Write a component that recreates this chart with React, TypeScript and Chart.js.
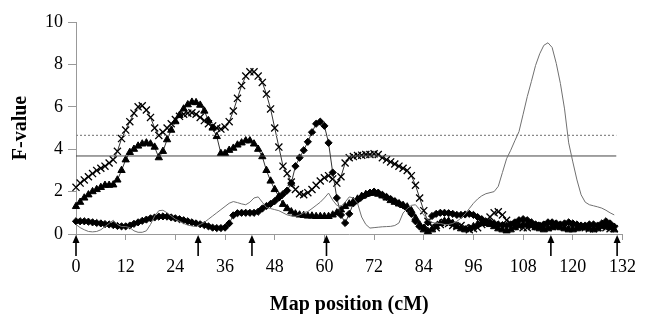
import React, { useEffect, useRef } from "react";
import { Chart, registerables } from "chart.js";

Chart.register(...registerables);

// Map position (cM) step: one value per cM from 0 to 130
const crossSeries = [
  2.2, 2.4, 2.55, 2.7, 2.85, 3.0, 3.1, 3.2, 3.35, 3.5,
  3.9, 4.5, 4.9, 5.3, 5.7, 6.0, 6.05, 5.85, 5.5, 5.0,
  4.65, 4.8, 5.0, 5.2, 5.4, 5.55, 5.65, 5.7, 5.72, 5.65,
  5.5, 5.35, 5.2, 5.1, 5.0, 4.95, 5.05, 5.3, 5.8, 6.4,
  7.0, 7.45, 7.65, 7.65, 7.45, 7.15, 6.6, 5.9, 5.0, 4.1,
  3.2, 2.85, 2.45, 2.1, 1.9, 1.85, 1.95, 2.1, 2.3, 2.5,
  2.65, 2.75, 2.6, 2.4, 2.7, 3.35, 3.6, 3.65, 3.7, 3.72,
  3.75, 3.75, 3.78, 3.75, 3.6, 3.5, 3.4, 3.3, 3.2, 3.1,
  3.0, 2.75, 2.3, 1.7, 1.1, 0.6, 0.35, 0.3, 0.45, 0.55,
  0.5, 0.4, 0.35, 0.4, 0.3, 0.2, 0.25, 0.3, 0.45, 0.6,
  0.8, 1.0, 1.05, 0.9, 0.65, 0.5, 0.4, 0.35, 0.3, 0.3,
  0.35, 0.4, 0.4, 0.35, 0.3, 0.35, 0.4, 0.4, 0.35, 0.3,
  0.3, 0.35, 0.35, 0.3, 0.25, 0.25, 0.3, 0.35, 0.3, 0.25,
  0.25,
];

const triangleSeries = [
  1.3, 1.5, 1.7, 1.85, 2.0, 2.1, 2.2, 2.3, 2.3, 2.32,
  2.55, 3.0, 3.5, 3.85, 4.0, 4.15, 4.25, 4.3, 4.25, 4.1,
  3.6, 3.9, 4.45, 4.9, 5.3, 5.6, 5.9, 6.1, 6.22, 6.2,
  6.08, 5.8, 5.35, 5.0, 4.6, 3.8, 3.8, 3.95, 4.05, 4.2,
  4.3, 4.4, 4.4, 4.25, 4.0, 3.65, 3.0, 2.5, 2.1, 1.77,
  1.4, 1.2, 1.05, 0.95, 0.9, 0.88, 0.85, 0.85, 0.83, 0.83,
  0.83, 0.83, 0.9, 1.0, 1.14, 1.3, 1.42, 1.53, 1.65, 1.78,
  1.87, 1.92, 1.93, 1.88, 1.8, 1.7, 1.58, 1.5, 1.42, 1.35,
  1.28, 1.1, 0.75, 0.44, 0.2, 0.12, 0.2, 0.35, 0.5, 0.6,
  0.6, 0.5, 0.35, 0.25, 0.2, 0.25, 0.35, 0.45, 0.5, 0.5,
  0.45, 0.35, 0.25, 0.2, 0.15, 0.2, 0.3, 0.4, 0.45, 0.45,
  0.4, 0.3, 0.25, 0.2, 0.25, 0.3, 0.35, 0.3, 0.25, 0.2,
  0.2, 0.25, 0.3, 0.3, 0.25, 0.2, 0.25, 0.35, 0.4, 0.3,
  0.2,
];

const diamondSeries = [
  0.6, 0.6, 0.6, 0.58, 0.55, 0.52, 0.5, 0.47, 0.45, 0.42,
  0.38, 0.36, 0.36, 0.4, 0.48, 0.55, 0.62, 0.68, 0.74, 0.78,
  0.82, 0.83, 0.82, 0.78, 0.74, 0.7, 0.65, 0.6, 0.55, 0.5,
  0.46, 0.42, 0.36, 0.3, 0.28, 0.28, 0.3, 0.5, 0.88, 0.98,
  1.0, 1.0, 1.0, 1.0, 1.05, 1.2, 1.32, 1.42, 1.55, 1.72,
  1.88, 2.05, 2.4, 3.2, 3.6, 3.95, 4.35, 4.8, 5.2, 5.3,
  5.1, 4.3, 2.9, 1.7, 0.9, 0.52, 0.95, 1.45, 1.6, 1.75,
  1.85, 1.95, 2.0, 1.95, 1.85, 1.75, 1.65, 1.55, 1.45, 1.35,
  1.2, 0.95, 0.6, 0.35, 0.3, 0.55, 0.85, 0.95, 1.0, 1.0,
  0.98, 0.95, 0.9, 0.9, 0.92, 0.95, 0.9, 0.8, 0.7, 0.6,
  0.55, 0.5, 0.45, 0.42, 0.4, 0.45, 0.55, 0.65, 0.7, 0.65,
  0.55, 0.45, 0.4, 0.45, 0.55, 0.55, 0.5, 0.45, 0.5, 0.55,
  0.5, 0.45, 0.4, 0.4, 0.45, 0.45, 0.4, 0.5, 0.6, 0.5,
  0.35,
];

const lineSeries = [
  0.45, 0.3, 0.2, 0.12, 0.1, 0.12, 0.2, 0.35, 0.5, 0.65,
  0.45, 0.35, 0.35, 0.3, 0.15, 0.08, 0.08, 0.15, 0.45, 0.85,
  1.1, 1.12, 1.0, 0.85, 0.7, 0.6, 0.5, 0.42, 0.38, 0.35,
  0.45, 0.55, 0.7, 0.85, 1.0, 1.15, 1.3, 1.45, 1.53, 1.48,
  1.42, 1.38, 1.5, 1.7, 1.75, 1.5, 1.25, 1.2, 1.15, 1.1,
  1.0, 0.9, 0.85, 0.83, 0.9, 1.0, 1.06, 1.2, 1.35, 1.5,
  1.7, 1.93, 1.6, 1.35, 1.3, 1.5, 1.75, 1.7, 1.45, 0.8,
  0.45, 0.28, 0.3, 0.32, 0.34, 0.35, 0.36, 0.4, 0.52, 0.99,
  1.2, 1.35, 1.38, 1.15, 0.9, 0.67, 0.55, 0.5, 0.5, 0.45,
  0.45, 0.5, 0.6, 0.75, 0.95, 1.2, 1.45, 1.65, 1.8, 1.9,
  1.95, 2.0, 2.25, 2.9, 3.55, 3.95, 4.4, 4.83, 5.65, 6.48,
  7.2, 7.95, 8.5, 8.9, 9.02, 8.8, 8.05, 7.1, 5.9, 4.3,
  3.4, 2.55, 1.85, 1.5, 1.38, 1.33, 1.28, 1.22, 1.12, 1.0,
  0.9,
];

const thresholdDotted = 4.65;
const thresholdSolid = 3.68;
const thresholdEnd = 130.5;
const markerPositions = [0, 29.5, 42.5, 60.5, 114.7, 130.7];
const xTickStep = 12;
const yTickStep = 2;

const FONT = "'Liberation Serif', 'Times New Roman', serif";

const toPoints = (arr: number[]) => arr.map((v, i) => ({ x: i, y: v }));

const arrowPlugin = {
  id: "arrows",
  afterDraw(chart: any) {
    const { ctx, chartArea, scales } = chart;
    const xs = scales.x;
    ctx.save();
    ctx.strokeStyle = "#000";
    ctx.fillStyle = "#000";
    ctx.lineWidth = 1.6;
    markerPositions.forEach((p) => {
      const px = xs.getPixelForValue(p);
      const tip = chartArea.bottom + 1;
      ctx.beginPath();
      ctx.moveTo(px, tip + 6);
      ctx.lineTo(px, tip + 21);
      ctx.stroke();
      ctx.beginPath();
      ctx.moveTo(px, tip);
      ctx.lineTo(px - 3.5, tip + 8);
      ctx.lineTo(px + 3.5, tip + 8);
      ctx.closePath();
      ctx.fill();
    });
    ctx.restore();
  },
};

export default function App() {
  const ref = useRef<HTMLCanvasElement | null>(null);
  useEffect(() => {
    if (!ref.current) return;
    const chart = new Chart(ref.current, {
      type: "scatter",
      data: {
        datasets: [
          {
            label: "line",
            data: toPoints(lineSeries),
            showLine: true,
            borderColor: "#707070",
            borderWidth: 1,
            pointRadius: 0,
            tension: 0,
            clip: false as any,
          },
          {
            label: "dotted",
            data: [
              { x: 0, y: thresholdDotted },
              { x: thresholdEnd, y: thresholdDotted },
            ],
            showLine: true,
            borderColor: "#8a8a8a",
            borderWidth: 1.2,
            borderDash: [2, 2],
            pointRadius: 0,
          },
          {
            label: "solid",
            data: [
              { x: 0, y: thresholdSolid },
              { x: thresholdEnd, y: thresholdSolid },
            ],
            showLine: true,
            borderColor: "#444",
            borderWidth: 1,
            pointRadius: 0,
          },
          {
            label: "diamonds",
            data: toPoints(diamondSeries),
            showLine: true,
            borderColor: "#333",
            borderWidth: 1,
            pointStyle: "rectRot",
            pointRadius: 3.6,
            pointBackgroundColor: "#000",
            pointBorderColor: "#000",
            pointBorderWidth: 1,
            clip: false as any,
          },
          {
            label: "triangles",
            data: toPoints(triangleSeries),
            showLine: true,
            borderColor: "#333",
            borderWidth: 1,
            pointStyle: "triangle",
            pointRadius: 4.2,
            pointBackgroundColor: "#000",
            pointBorderColor: "#000",
            pointBorderWidth: 1,
            clip: false as any,
          },
          {
            label: "crosses",
            data: toPoints(crossSeries),
            showLine: true,
            borderColor: "#333",
            borderWidth: 1,
            pointStyle: "crossRot",
            pointRadius: 5,
            pointBorderColor: "#000",
            pointBorderWidth: 1.3,
            clip: false as any,
          },
        ],
      },
      options: {
        animation: false,
        responsive: true,
        maintainAspectRatio: false,
        layout: { padding: { left: 0, right: 18, top: 22, bottom: 0 } },
        plugins: {
          legend: { display: false },
          tooltip: { enabled: false },
        },
        scales: {
          x: {
            type: "linear",
            min: 0,
            max: 132,
            afterFit: (s: any) => {
              s.height = 80;
            },
            ticks: {
              stepSize: xTickStep,
              color: "#000",
              padding: 16,
              font: { family: FONT, size: 18 },
              maxRotation: 0,
            },
            grid: {
              display: true,
              drawOnChartArea: false,
              drawTicks: true,
              tickLength: 6,
              color: "#999",
            },
            border: { display: true, color: "#999", width: 1 },
            title: {
              display: true,
              text: "Map position (cM)",
              color: "#000",
              font: { family: FONT, size: 20, weight: "bold" },
              padding: { top: 0, bottom: -3 },
            },
          },
          y: {
            min: 0,
            max: 10,
            afterFit: (s: any) => {
              s.width = 76;
            },
            ticks: {
              stepSize: yTickStep,
              color: "#000",
              padding: 5,
              font: { family: FONT, size: 18 },
            },
            grid: {
              display: true,
              drawOnChartArea: false,
              drawTicks: true,
              tickLength: 8,
              color: "#999",
            },
            border: { display: true, color: "#999", width: 1 },
            title: {
              display: true,
              text: "F-value",
              color: "#000",
              font: { family: FONT, size: 20, weight: "bold" },
              padding: { top: 9, bottom: 0 },
            },
          },
        },
      },
      plugins: [arrowPlugin],
    });
    return () => chart.destroy();
  }, []);

  return (
    <div
      style={{
        position: "fixed",
        left: 0,
        top: 0,
        width: 652,
        height: 314,
        background: "#fff",
      }}
    >
      <canvas ref={ref} />
    </div>
  );
}
